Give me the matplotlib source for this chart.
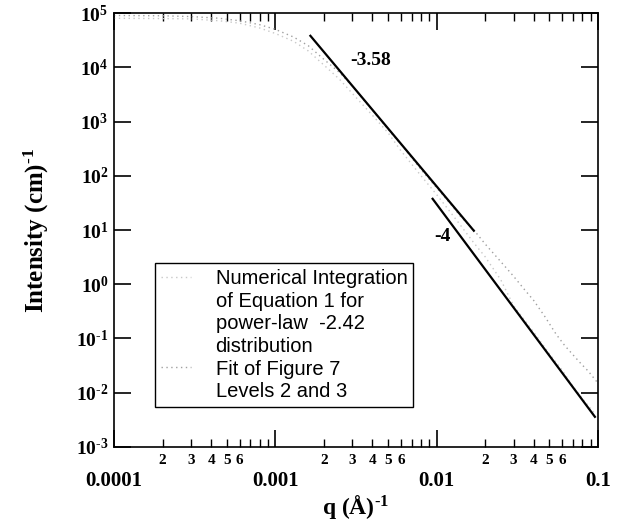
import matplotlib
matplotlib.use('Agg')
import matplotlib.pyplot as plt
import matplotlib.ticker as ticker
from matplotlib.lines import Line2D
import numpy as np

plt.rcParams['mathtext.fontset'] = 'custom'
plt.rcParams['mathtext.rm'] = 'Liberation Serif:bold'
plt.rcParams['mathtext.bf'] = 'Liberation Serif:bold'
plt.rcParams['mathtext.it'] = 'Liberation Serif:bold'

# numerical integration of equation 1 (power-law -2.42 distribution)
q_num = [1e-4, 2e-4, 3e-4, 4.5e-4, 6e-4, 8e-4, 1e-3, 1.3e-3, 1.6e-3, 2e-3, 2.5e-3,
         3e-3, 4e-3, 5e-3, 6e-3, 8e-3, 0.01, 0.0137, 0.017, 0.02, 0.025, 0.03,
         0.04, 0.05, 0.06, 0.07, 0.08, 0.095]
i_num = [8.0e4, 7.9e4, 7.8e4, 7.2e4, 6.5e4, 5.3e4, 4.2e4, 3.0e4, 2.0e4, 1.1e4, 6.0e3,
         3.3e3, 1.3e3, 620, 290, 100, 45, 13.5, 5.8, 3.2, 1.2, 0.40,
         0.13, 0.052, 0.026, 0.013, 0.0078, 0.0042]

# fit of figure 7, levels 2 and 3
q_fit = [1e-4, 2e-4, 3e-4, 4.5e-4, 6e-4, 8e-4, 1e-3, 1.3e-3, 1.6e-3, 2e-3, 2.5e-3,
         3e-3, 4e-3, 5e-3, 6e-3, 8e-3, 0.01, 0.012, 0.014, 0.017, 0.02, 0.025,
         0.03, 0.035, 0.04, 0.047, 0.055, 0.062, 0.07, 0.078, 0.087, 0.1]
i_fit = [9.0e4, 8.9e4, 8.6e4, 8.0e4, 7.2e4, 6.1e4, 5.0e4, 3.6e4, 2.5e4, 1.4e4, 8.0e3,
         4.5e3, 1.6e3, 720, 380, 130, 60, 32, 18, 10, 5.5, 2.6,
         1.4, 0.8, 0.5, 0.25, 0.12, 0.075, 0.05, 0.035, 0.025, 0.015]

# power-law guide lines
q_358 = [0.00165, 0.0170]
i_358 = [3.8e4, 9.7]
q_4 = [0.00944, 0.0957]
i_4 = [37.6, 3.6e-3]

fig = plt.figure(figsize=(6.29, 5.25), dpi=100)
ax = fig.add_axes([0.1812, 0.1486, 0.7695, 0.8266])

ax.plot(q_num, i_num, linestyle=(0, (1, 2.5)), color='#c8c8c8', lw=1.0)
ax.plot(q_fit, i_fit, linestyle=(0, (1, 2.5)), color='#a0a0a0', lw=1.0)
ax.plot(q_358, i_358, color='black', lw=1.6)
ax.plot(q_4, i_4, color='black', lw=1.6)

ax.set_xscale('log')
ax.set_yscale('log')
ax.set_xlim(1e-4, 0.1)
ax.set_ylim(1e-3, 1e5)

ax.text(3.9e-3, 1.36e4, '-3.58', fontsize=14, fontweight='bold',
        family='Liberation Serif', ha='center', va='center')
ax.text(0.0109, 7.5, '-4', fontsize=14, fontweight='bold',
        family='Liberation Serif', ha='center', va='center')

for s in ax.spines.values():
    s.set_linewidth(1.2)

# y ticks
ax.yaxis.set_major_locator(ticker.LogLocator(base=10, numticks=20))
ax.yaxis.set_minor_locator(ticker.NullLocator())
ax.yaxis.set_major_formatter(ticker.FuncFormatter(
    lambda v, p: r'$\mathbf{10^{\text{%d}}}$' % int(round(np.log10(v)))))
ax.tick_params(axis='y', which='major', direction='in', length=12, width=1.2,
               right=True, labelsize=14, pad=4)

# x ticks
ax.xaxis.set_major_locator(ticker.LogLocator(base=10, numticks=20))
ax.xaxis.set_minor_locator(ticker.LogLocator(base=10, subs=np.arange(2, 10), numticks=20))
xlabels = {1e-4: '0.0001', 1e-3: '0.001', 1e-2: '0.01', 1e-1: '0.1'}
ax.xaxis.set_major_formatter(ticker.FuncFormatter(
    lambda v, p: min(xlabels.items(), key=lambda kv: abs(np.log10(kv[0]) - np.log10(v)))[1]))


def minor_fmt(v, p):
    m = int(round(v / 10 ** np.floor(np.log10(v) + 1e-9)))
    return str(m) if m in (2, 3, 4, 5, 6) else ''


ax.xaxis.set_minor_formatter(ticker.FuncFormatter(minor_fmt))
ax.tick_params(axis='x', which='major', direction='in', length=12, width=1.2,
               top=True, labelsize=15, pad=17)
ax.tick_params(axis='x', which='minor', direction='in', length=6, width=1.0,
               top=True, labelsize=11, pad=5)
for lab in ax.get_xticklabels(which='both'):
    lab.set_fontfamily('Liberation Serif')
    lab.set_fontweight('bold')

ax.set_xlabel(r'q ($\mathbf{\AA}$)$^{\text{-1}}$', fontsize=17, fontweight='bold',
              family='Liberation Serif', labelpad=2)
ax.set_ylabel(r'Intensity (cm)$^{\text{-1}}$', fontsize=18, fontweight='bold',
              family='Liberation Serif', labelpad=18)

# legend
blank = Line2D([], [], linestyle='none')
h1 = Line2D([], [], linestyle=(0, (1, 2.5)), color='#c8c8c8', lw=1.0)
h2 = Line2D([], [], linestyle=(0, (1, 2.5)), color='#a0a0a0', lw=1.0)
handles = [h1, blank, blank, blank, h2, blank]
labels = ['Numerical Integration', 'of Equation 1 for', 'power-law  -2.42',
          'distribution', 'Fit of Figure 7', 'Levels 2 and 3']
leg = ax.legend(handles, labels, loc='upper left', bbox_to_anchor=(0.085, 0.424),
                frameon=True, fancybox=False, edgecolor='black', framealpha=1,
                prop={'family': 'Liberation Sans', 'size': 14.5},
                labelspacing=0.18, handlelength=1.5, handletextpad=1.2,
                borderpad=0.3, borderaxespad=0)
leg.get_frame().set_linewidth(1.0)

fig.savefig('out.png', dpi=100)
